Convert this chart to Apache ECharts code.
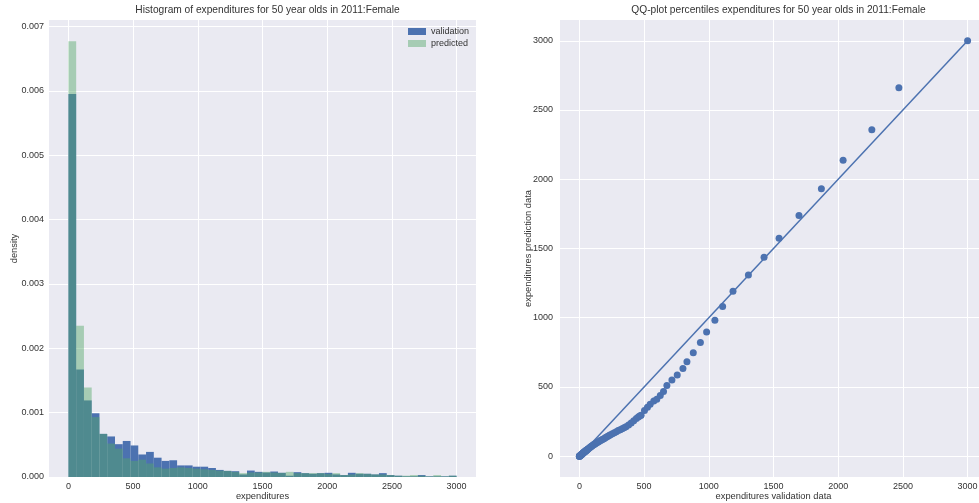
<!DOCTYPE html>
<html>
<head>
<meta charset="utf-8">
<script src="https://cdn.jsdelivr.net/npm/echarts@6/dist/echarts.min.js"></script>
<style>
html,body{margin:0;padding:0;background:#fff;}
#chart{width:979px;height:503px;}
</style>
</head>
<body>
<div id="chart"></div>
<script>
// ---------- data ----------
const binEdges = [0,60,120,180,240,300,360,420,480,540,600,660,720,780,840,900,960,1020,1080,1140,1200,1260,1320,1380,1440,1500,1560,1620,1680,1740,1800,1860,1920,1980,2040,2100,2160,2220,2280,2340,2400,2460,2520,2580,2640,2700,2760,2820,2880,2940,3000];
const validationDensity = [0.00595,0.00167,0.00119,0.00099,0.00067,0.00063,0.00051,0.00056,0.00049,0.00035,0.00039,0.00030,0.00025,0.00026,0.00018,0.00018,0.00016,0.00016,0.00014,0.00011,0.000095,0.00009,0.00004,0.00010,0.00008,0.00007,0.000085,0.000065,0.00002,0.000075,0.00006,0.00005,0.00006,0.000065,0.00004,0.00003,0.000065,0.00005,0.00005,0.00004,0.00006,0.00003,0.00002,0.00001,0.00001,0.00003,0.00001,0.00001,0.00001,0.00002];
const predictedDensity = [0.00677,0.00235,0.00139,0.00093,0.00067,0.00052,0.00044,0.00029,0.00025,0.00027,0.00021,0.00015,0.00013,0.00014,0.00015,0.00014,0.00013,0.00012,0.00011,0.00010,0.000095,0.00008,0.00006,0.00007,0.00007,0.00008,0.00007,0.000065,0.00008,0.00006,0.00006,0.00006,0.00006,0.00005,0.00006,0.00003,0.00004,0.00006,0.00005,0.00004,0.00004,0.00003,0.00002,0.00002,0.00003,0.00002,0.00001,0.00003,0.00001,0.00002];

const qqValidation = [0,0,0,1,2,3,5,6,8,10,11,13,15,17,19,21,23,25,27,29,31,33,35,37,39,41,43,45,47,49,51,53,55,57,59,62,67,73,79,85,91,97,103,109,115,120,128,137,145,154,162,171,180,190,200,210,220,230,240,255,270,285,300,315,330,345,360,380,400,420,440,455,466,
  477,503,526,547,575,598,625,650,676,715,756,800,831,880,935,983,1047,1107,1187,1306,1427,1543,1697,1870,2038,2260,2469,3000];
const qqPredicted = [0,0,0,1,1,2,4,5,6,8,9,10,12,13,15,17,18,20,22,23,25,27,28,30,31,33,34,36,38,39,41,42,44,45,47,49,53,57,61,66,70,74,80,83,86,89,94,99,103,108,113,118,122,127,133,138,145,150,155,162,169,177,185,192,198,205,212,225,240,257,272,283,290,
  296,330,354,376,398,412,439,468,511,550,586,634,682,747,822,897,981,1082,1191,1309,1437,1574,1738,1931,2138,2357,2661,3000];
const refLine = [[0,0],[3000,3000]];

const histTicks = [0,0.001,0.002,0.003,0.004,0.005,0.006,0.007];
const expTicks = [0,500,1000,1500,2000,2500,3000];

// ---------- build ----------
const BLUE = '#4C72B0', GREEN = '#55A868', TXT = '#333333';
const FONT = '"Liberation Sans", Arial, sans-serif';

function binData(vals){
  return vals.map((v,i)=>[binEdges[i], binEdges[i+1], v]);
}
function histRender(color, opacity){
  return function(params, api){
    const p0 = api.coord([api.value(0), api.value(2)]);
    const p1 = api.coord([api.value(1), 0]);
    return {type:'rect', shape:{x:p0[0], y:p0[1], width:p1[0]-p0[0], height:p1[1]-p0[1]},
            style:{fill:color, opacity:opacity}};
  };
}
const qqData = qqValidation.map((x,i)=>[x, qqPredicted[i]]);

const axisCommon = {
  axisLine:{show:false}, axisTick:{show:false},
  splitLine:{show:true, lineStyle:{color:'#ffffff', width:1}},
  nameMoveOverlap:false,
  nameTextStyle:{color:TXT, fontSize:9.3, fontFamily:FONT}
};
const plain = v => String(v);

const chart = echarts.init(document.getElementById('chart'), null, {renderer:'canvas'});
chart.setOption({
  animation:false,
  textStyle:{fontFamily:FONT},
  title:[
    {text:'Histogram of expenditures for 50 year olds in 2011:Female', left:262.5, top:0, textAlign:'center',
     textStyle:{fontSize:10.2, fontWeight:'normal', color:TXT, fontFamily:FONT}},
    {text:'QQ-plot percentiles expenditures for 50 year olds in 2011:Female', left:773.5, top:0, textAlign:'center',
     textStyle:{fontSize:10.2, fontWeight:'normal', color:TXT, fontFamily:FONT}}
  ],
  legend:{
    orient:'vertical', left:408, top:27, padding:0, itemWidth:18, itemHeight:7, itemGap:3,
    textStyle:{fontSize:9, color:TXT, fontFamily:FONT},
    data:[
      {name:'validation', icon:'rect', itemStyle:{color:BLUE}},
      {name:'predicted', icon:'rect', itemStyle:{color:GREEN, opacity:0.45}}
    ]
  },
  grid:[
    {left:49, top:20, width:427, height:457, show:true, backgroundColor:'#EAEAF2', borderWidth:0, outerBoundsMode:'none', containLabel:false},
    {left:560, top:20, width:427, height:457, show:true, backgroundColor:'#EAEAF2', borderWidth:0, outerBoundsMode:'none', containLabel:false}
  ],
  xAxis:[
    Object.assign({}, axisCommon, {gridIndex:0, type:'value', min:-150, max:3150,
      name:'expenditures', nameLocation:'middle', nameGap:15,
      axisTick:{show:false, customValues:expTicks},
      axisLabel:{customValues:expTicks, color:TXT, fontSize:9, margin:5, fontFamily:FONT, formatter:plain}}),
    Object.assign({}, axisCommon, {gridIndex:1, type:'value', min:-150, max:3150,
      name:'expenditures validation data', nameLocation:'middle', nameGap:15,
      axisTick:{show:false, customValues:expTicks},
      axisLabel:{customValues:expTicks, color:TXT, fontSize:9, margin:5, fontFamily:FONT, formatter:plain}})
  ],
  yAxis:[
    Object.assign({}, axisCommon, {gridIndex:0, type:'value', min:0, max:0.0071,
      name:'density', nameLocation:'middle', nameGap:30,
      axisTick:{show:false, customValues:histTicks},
      axisLabel:{customValues:histTicks, color:TXT, fontSize:9, margin:5, fontFamily:FONT,
        formatter:v=>v.toFixed(3)}}),
    Object.assign({}, axisCommon, {gridIndex:1, type:'value', min:-150, max:3150,
      name:'expenditures prediction data', nameLocation:'middle', nameGap:27,
      axisTick:{show:false, customValues:expTicks},
      axisLabel:{customValues:expTicks, color:TXT, fontSize:9, margin:7, fontFamily:FONT, formatter:plain}})
  ],
  series:[
    {name:'validation', type:'custom', xAxisIndex:0, yAxisIndex:0, clip:true,
     itemStyle:{color:BLUE}, renderItem:histRender(BLUE,1), encode:{x:[0,1], y:2},
     data:binData(validationDensity), silent:true},
    {name:'predicted', type:'custom', xAxisIndex:0, yAxisIndex:0, clip:true,
     itemStyle:{color:GREEN, opacity:0.45}, renderItem:histRender(GREEN,0.45), encode:{x:[0,1], y:2},
     data:binData(predictedDensity), silent:true},
    {name:'y=x', type:'line', xAxisIndex:1, yAxisIndex:1, data:refLine, symbol:'none',
     lineStyle:{color:BLUE, width:1.5}, silent:true},
    {name:'qq', type:'scatter', xAxisIndex:1, yAxisIndex:1, data:qqData, symbolSize:7,
     itemStyle:{color:BLUE, opacity:1}, silent:true}
  ]
});
</script>
</body>
</html>
